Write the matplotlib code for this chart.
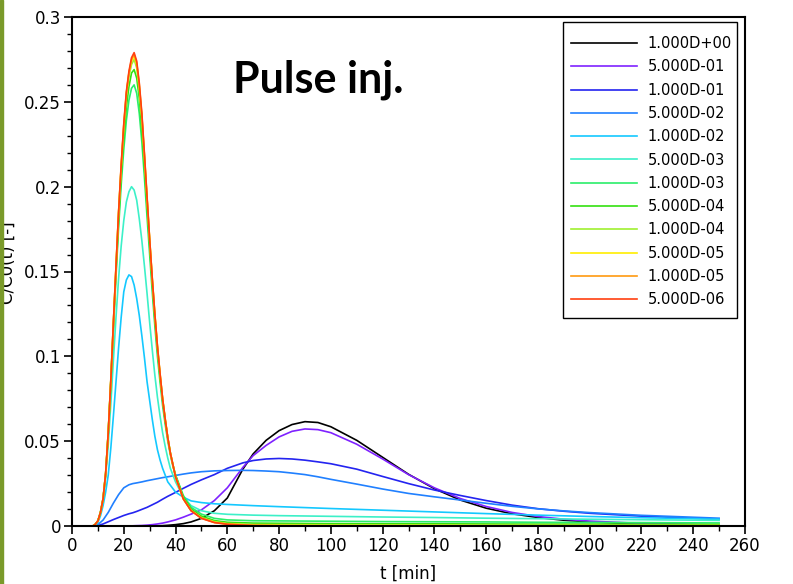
import matplotlib
matplotlib.use("Agg")
import matplotlib.pyplot as plt
from matplotlib.patches import Rectangle
from matplotlib.ticker import MultipleLocator

plt.rcParams["font.family"] = ["DejaVu Sans"]

# time grid of the sharp (low-D) curves [min]
t_peak = [0, 5, 8, 9, 10, 11, 12, 13, 14, 15, 16, 17, 18, 19, 20,
          21, 22, 23, 24, 25, 26, 27, 28, 29, 30,
          31, 32, 33, 34, 35, 36, 37, 38, 39, 40,
          43, 46, 50, 55, 60, 70, 80, 100, 120, 140, 160, 180, 200, 220, 250]

# time grid of the broad (high-D) curves [min]
t_broad = [0, 5, 8, 10, 12, 14, 16, 18, 20, 22, 23.5, 25, 27, 29, 31, 33, 35, 37,
           40, 43, 46, 50, 55, 60, 66, 70, 75, 80, 85, 90, 95, 100,
           110, 120, 130, 140, 150, 160, 170, 180, 190, 200, 220, 250]

# C/C0(t), broad curves (on t_broad)
c_1e0 = [0, 0, 0, 0, 0, 0, 0, 0, 0, 0, 0, 0, 0, 0, 0,
         0.0001, 0.0002, 0.0004, 0.0008, 0.0014, 0.0024, 0.0045, 0.0090, 0.0165,
         0.0335, 0.0425, 0.0505, 0.0562, 0.0598, 0.0615, 0.0610, 0.0585,
         0.0505, 0.0405, 0.0305, 0.0220, 0.0153, 0.0105, 0.0072, 0.0050, 0.0034, 0.0024,
         0.0012, 0.0004]
c_5e_1 = [0, 0, 0, 0, 0, 0, 0, 0, 0, 0,
          0.0001, 0.0002, 0.0003, 0.0005, 0.0008, 0.0012, 0.0017, 0.0024,
          0.0036, 0.0052, 0.0070, 0.0095, 0.0150, 0.0225,
          0.0345, 0.0415, 0.0475, 0.0525, 0.0558, 0.0572, 0.0568, 0.0550,
          0.0482, 0.0395, 0.0303, 0.0225, 0.0162, 0.0115, 0.0080, 0.0056, 0.0040, 0.0029,
          0.0015, 0.0006]
c_1e_1 = [0, 0, 0, 0.0003, 0.0012, 0.0025, 0.0038, 0.0050, 0.0062, 0.0072,
          0.0078, 0.0086, 0.0098, 0.0110, 0.0125, 0.0140, 0.0158, 0.0175,
          0.0198, 0.0222, 0.0245, 0.0272, 0.0303, 0.0340,
          0.0372, 0.0386, 0.0395, 0.0398, 0.0395, 0.0388, 0.0378, 0.0367,
          0.0335, 0.0292, 0.0250, 0.0212, 0.0180, 0.0150, 0.0123, 0.0102, 0.0087, 0.0075,
          0.0058, 0.0040]
c_5e_2 = [0, 0, 0, 0.0008, 0.0035, 0.0080, 0.0135, 0.0185, 0.0225, 0.0243,
          0.0250, 0.0254, 0.0260, 0.0267, 0.0273, 0.0279, 0.0285, 0.0290,
          0.0298, 0.0306, 0.0313, 0.0320, 0.0325, 0.0327,
          0.0328, 0.0327, 0.0324, 0.0320, 0.0312, 0.0303, 0.0290, 0.0275,
          0.0247, 0.0218, 0.0192, 0.0172, 0.0153, 0.0134, 0.0116, 0.0101, 0.0089, 0.0079,
          0.0063, 0.0046]

# C/C0(t), sharp curves (on t_peak)
c_1e_2 = [0, 0, 0,
          0.0005, 0.002, 0.006, 0.012, 0.020, 0.030, 0.046, 0.065, 0.085, 0.105, 0.123, 0.138,
          0.145, 0.148, 0.147, 0.142, 0.134, 0.124, 0.112, 0.099, 0.085, 0.074,
          0.063, 0.053, 0.045, 0.039, 0.034, 0.030, 0.026, 0.024, 0.022, 0.020,
          0.017, 0.0148, 0.0138, 0.0131, 0.0127,
          0.0120, 0.0114,
          0.0103, 0.0093, 0.0083, 0.0073, 0.0064, 0.0056,
          0.0049, 0.0040]
c_5e_3 = [0, 0, 0,
          0.001, 0.003, 0.008, 0.015, 0.029, 0.048, 0.072, 0.098, 0.123, 0.146, 0.165, 0.180,
          0.191, 0.197, 0.200, 0.198, 0.192, 0.181, 0.168, 0.153, 0.137, 0.120,
          0.104, 0.089, 0.076, 0.065, 0.055, 0.047, 0.040, 0.034, 0.030, 0.026,
          0.017, 0.012, 0.0090, 0.0075, 0.0069,
          0.0064, 0.0061,
          0.0057, 0.0053, 0.0050, 0.0046, 0.0043, 0.0040,
          0.0037, 0.0033]
c_1e_3 = [0, 0, 0,
          0.001, 0.003, 0.008, 0.016, 0.030, 0.054, 0.084, 0.116, 0.147, 0.176, 0.201, 0.222,
          0.239, 0.251, 0.258, 0.260, 0.255, 0.243, 0.226, 0.205, 0.182, 0.160,
          0.138, 0.118, 0.100, 0.085, 0.071, 0.060, 0.050, 0.042, 0.035, 0.030,
          0.018, 0.011, 0.0070, 0.0045, 0.0036,
          0.0031, 0.0030,
          0.0028, 0.0026, 0.0025, 0.0024, 0.0022, 0.0021,
          0.0020, 0.0018]
c_5e_4 = [0, 0, 0,
          0.001, 0.003, 0.008, 0.016, 0.031, 0.055, 0.085, 0.118, 0.150, 0.180, 0.207, 0.229,
          0.247, 0.259, 0.267, 0.269, 0.264, 0.252, 0.234, 0.211, 0.188, 0.165,
          0.143, 0.122, 0.104, 0.088, 0.074, 0.062, 0.052, 0.043, 0.036, 0.030,
          0.017, 0.010, 0.0058, 0.0032, 0.0022,
          0.0017, 0.0016,
          0.0014, 0.0013, 0.0013, 0.0012, 0.0011, 0.0011,
          0.0010, 0.0009]
c_1e_4 = [0, 0, 0,
          0.001, 0.003, 0.008, 0.016, 0.031, 0.055, 0.086, 0.120, 0.152, 0.184, 0.211, 0.234,
          0.253, 0.265, 0.272, 0.275, 0.270, 0.257, 0.240, 0.216, 0.192, 0.168,
          0.145, 0.124, 0.105, 0.089, 0.075, 0.063, 0.052, 0.043, 0.036, 0.029,
          0.016, 0.0092, 0.0050, 0.0026, 0.0015,
          0.0009, 0.0008,
          0.0007, 0.0006, 0.0006, 0.0005, 0.0005, 0.0004,
          0.0004, 0.0004]
c_5e_5 = [0, 0, 0,
          0.001, 0.003, 0.008, 0.016, 0.031, 0.055, 0.086, 0.120, 0.153, 0.185, 0.212, 0.236,
          0.255, 0.267, 0.274, 0.277, 0.272, 0.259, 0.241, 0.218, 0.193, 0.169,
          0.146, 0.125, 0.106, 0.090, 0.075, 0.063, 0.052, 0.043, 0.036, 0.029,
          0.016, 0.0091, 0.0047, 0.0022, 0.0012,
          0.0005, 0.0004,
          0.0003, 0.0003, 0.0003, 0.0002, 0.0002, 0.0002,
          0.0002, 0.0002]
c_1e_5 = [0, 0, 0,
          0.001, 0.003, 0.008, 0.016, 0.031, 0.055, 0.086, 0.120, 0.153, 0.185, 0.212, 0.236,
          0.255, 0.267, 0.275, 0.278, 0.273, 0.260, 0.242, 0.218, 0.193, 0.169,
          0.146, 0.125, 0.106, 0.090, 0.075, 0.063, 0.052, 0.043, 0.036, 0.029,
          0.016, 0.0090, 0.0046, 0.0021, 0.0011,
          0.0004, 0.0002,
          0.0001, 0.0001, 0.0001, 0.0001, 0.0001, 0.0001,
          0.0001, 0.0001]
c_5e_6 = [0, 0, 0,
          0.001, 0.003, 0.008, 0.016, 0.031, 0.055, 0.086, 0.120, 0.153, 0.185, 0.213, 0.237,
          0.256, 0.268, 0.276, 0.279, 0.274, 0.261, 0.243, 0.219, 0.194, 0.169,
          0.146, 0.125, 0.106, 0.090, 0.075, 0.063, 0.052, 0.043, 0.036, 0.029,
          0.016, 0.0090, 0.0045, 0.0020, 0.0010,
          0.0002, 0.0001,
          0, 0, 0, 0, 0, 0,
          0, 0]

labels = ["1.000D+00", "5.000D-01", "1.000D-01", "5.000D-02", "1.000D-02", "5.000D-03",
          "1.000D-03", "5.000D-04", "1.000D-04", "5.000D-05", "1.000D-05", "5.000D-06"]
series = [(t_broad, c_1e0), (t_broad, c_5e_1), (t_broad, c_1e_1), (t_broad, c_5e_2),
          (t_peak, c_1e_2), (t_peak, c_5e_3), (t_peak, c_1e_3), (t_peak, c_5e_4),
          (t_peak, c_1e_4), (t_peak, c_5e_5), (t_peak, c_1e_5), (t_peak, c_5e_6)]
colors = ["#000000", "#7f22ff", "#2424f0", "#2080ff", "#14c8ff", "#3cf0c8",
          "#2aee6a", "#33e010", "#a0f030", "#ffee00", "#ff9a10", "#ff4010"]

y_ticks = [0, 0.05, 0.1, 0.15, 0.2, 0.25, 0.3]
y_tick_labels = ["0", "0.05", "0.1", "0.15", "0.2", "0.25", "0.3"]

W, H = 793, 584
fig = plt.figure(figsize=(W / 100, H / 100), dpi=100)
ax = fig.add_axes([72 / W, 1 - 526 / H, (745 - 72) / W, (526 - 17) / H])

for (t, vals), lab, col in zip(series, labels, colors):
    ax.plot(t, vals, color=col, lw=1.2, label=lab)

ax.set_xlim(0, 260)
ax.set_ylim(0, 0.3)
ax.xaxis.set_major_locator(MultipleLocator(20))
ax.xaxis.set_minor_locator(MultipleLocator(10))
ax.set_yticks(y_ticks)
ax.set_yticklabels(y_tick_labels)
ax.yaxis.set_minor_locator(MultipleLocator(0.01))
ax.tick_params(which="major", direction="out", length=6, width=1.2, labelsize=12, pad=2)
ax.tick_params(which="minor", direction="out", length=3.5, width=1.0)
for sp in ax.spines.values():
    sp.set_linewidth(1.5)

# legend box drawn on its own so the padding matches the original
ax.add_patch(Rectangle((563 / W, 1 - 318 / H), 174 / W, 296 / H,
                       transform=fig.transFigure, facecolor="white",
                       edgecolor="black", lw=1.0, zorder=4, clip_on=False))
ax.legend(loc="upper left", bbox_to_anchor=(571 / W, 1 - 36 / H),
          bbox_transform=fig.transFigure, fontsize=10.5, frameon=False,
          handlelength=4.5, handletextpad=0.75, labelspacing=0.57,
          borderpad=0, borderaxespad=0)

fig.text(233 / W, 1 - 93 / H, "Pulse inj.", fontsize=31, fontweight="bold",
         family="Lato", ha="left", va="baseline")

fig.text(408 / W, 1 / H, "t [min]", fontsize=12, ha="center", va="bottom")
fig.text(8 / W, 1 - 263 / H, "C/C0(t) [-]", fontsize=12, rotation=90,
         ha="center", va="center")

# olive strip on the left edge
fig.patches.append(Rectangle((0, 0), 3 / W, 1, transform=fig.transFigure,
                             color="#7a9a2a", zorder=5))

fig.savefig("out.png", dpi=100)
